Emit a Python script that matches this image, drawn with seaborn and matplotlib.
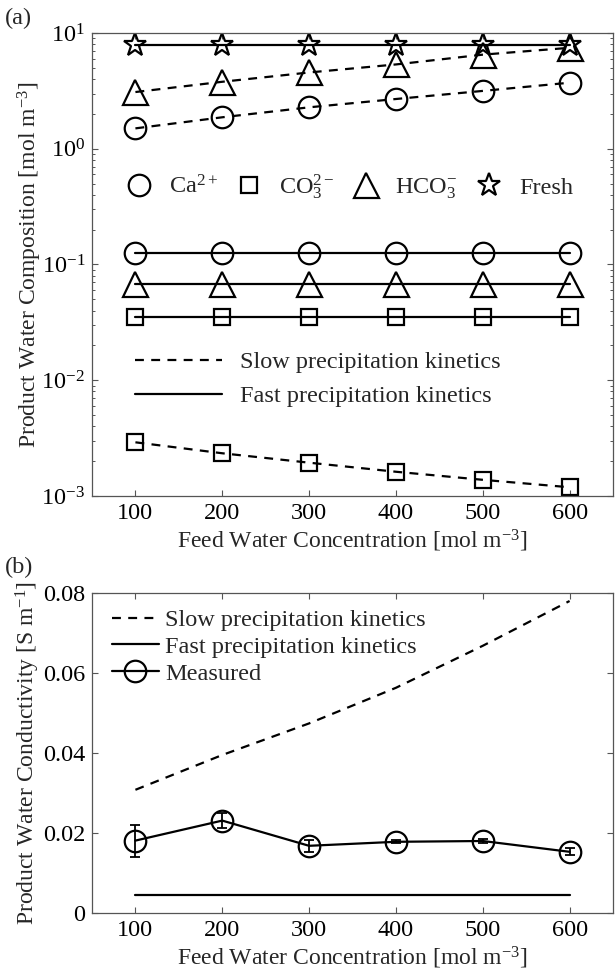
import numpy as np
import pandas as pd
import matplotlib
matplotlib.use("Agg")
import matplotlib.pyplot as plt
from matplotlib.lines import Line2D
import seaborn as sns

# ---------------- data ----------------
feed = [100, 200, 300, 400, 500, 600]

# panel (a): product water composition [mol m^-3]
ca_slow = [1.50, 1.87, 2.28, 2.69, 3.16, 3.72]
ca_fast = [0.125, 0.125, 0.125, 0.125, 0.125, 0.125]
co3_slow = [0.00291, 0.00234, 0.00194, 0.00162, 0.00138, 0.00119]
co3_fast = [0.035, 0.035, 0.035, 0.035, 0.035, 0.035]
hco3_slow = [3.09, 3.79, 4.56, 5.35, 6.50, 7.45]
hco3_fast = [0.068, 0.068, 0.068, 0.068, 0.068, 0.068]
fresh = [7.9, 7.9, 7.9, 7.9, 7.9, 7.9]

# panel (b): product water conductivity [S m^-1]
cond_slow = [0.0308, 0.0395, 0.0474, 0.0563, 0.0668, 0.0780]
cond_fast = [0.0045, 0.0045, 0.0045, 0.0045, 0.0045, 0.0045]
cond_meas = [0.0181, 0.0231, 0.0168, 0.0178, 0.0180, 0.0153]
cond_err = [0.0040, 0.0018, 0.0015, 0.0004, 0.0004, 0.0009]

ion_labels = [r"Ca$^{2+}$", r"CO$_3^{2-}$", r"HCO$_3^{-}$", "Fresh"]
kin_labels = ["Slow precipitation kinetics", "Fast precipitation kinetics"]
meas_label = "Measured"
xlabel = r"Feed Water Concentration [mol m$^{-3}$]"
ylabel_a = r"Product Water Composition [mol m$^{-3}$]"
ylabel_b = r"Product Water Conductivity [S m$^{-1}$]"
xticks = [100, 200, 300, 400, 500, 600]
yticks_b = [0, 0.02, 0.04, 0.06, 0.08]
yticklabels_b = ["0", "0.02", "0.04", "0.06", "0.08"]

# ---------------- style ----------------
sns.set_theme(style="ticks")
plt.rcParams["font.family"] = ["Liberation Serif", "DejaVu Serif"]
plt.rcParams["mathtext.fontset"] = "custom"
plt.rcParams["mathtext.rm"] = "Liberation Serif"
plt.rcParams["mathtext.it"] = "Liberation Serif:italic"
plt.rcParams["mathtext.bf"] = "Liberation Serif:bold"
FS = 17.5
LFS = 17
SPINE = "#555555"
DASH = (0, (4, 3.3))
LW = 1.6
MEW = 1.6

fig = plt.figure(figsize=(6.15, 9.74), dpi=100)
axa = fig.add_axes([92 / 615, 1 - 496 / 974, 521 / 615, 463 / 974])
axb = fig.add_axes([92 / 615, 1 - 913 / 974, 521 / 615, 320 / 974])


def style_axes(ax):
    for s in ax.spines.values():
        s.set_color(SPINE)
        s.set_linewidth(0.9)
    ax.tick_params(which="both", direction="in", top=True, right=True,
                   color=SPINE, labelsize=FS, labelcolor="black", pad=5)
    ax.tick_params(which="major", length=4.5, width=0.8)
    ax.tick_params(which="minor", length=2.5, width=0.7)
    ax.set_xlim(50, 650)
    ax.set_xticks(xticks)
    ax.set_xlabel(xlabel, fontsize=LFS, labelpad=3)


def line(ax, y, ls, marker=None, ms=0):
    df = pd.DataFrame({"x": feed, "y": y})
    kw = dict(color="black", linewidth=LW, linestyle=ls)
    if marker:
        kw.update(marker=marker, markersize=ms, markerfacecolor="none",
                  markeredgecolor="black", markeredgewidth=MEW)
    sns.lineplot(data=df, x="x", y="y", ax=ax, legend=False, **kw)


# ---------------- panel (a) ----------------
axa.set_yscale("log")
line(axa, fresh, "-", "*", 17)
line(axa, hco3_slow, DASH, "^", 18)
line(axa, ca_slow, DASH, "o", 15.5)
line(axa, ca_fast, "-", "o", 15.5)
line(axa, hco3_fast, "-", "^", 18)
line(axa, co3_fast, "-", "s", 11.5)
line(axa, co3_slow, DASH, "s", 11.5)
axa.set_ylim(1e-3, 1e1)
style_axes(axa)
axa.set_ylabel(ylabel_a, fontsize=LFS, labelpad=-2)

mk = dict(color="black", linestyle="none", markerfacecolor="none",
          markeredgecolor="black", markeredgewidth=MEW)
ion_handles = [Line2D([], [], marker="o", markersize=15.5, **mk),
               Line2D([], [], marker="s", markersize=11.5, **mk),
               Line2D([], [], marker="^", markersize=18, **mk),
               Line2D([], [], marker="*", markersize=17, **mk)]
leg1 = axa.legend(ion_handles, ion_labels, loc="center left",
                  bbox_to_anchor=(0.062, 0.667), ncol=4, frameon=False,
                  fontsize=FS, handlelength=1.2, handletextpad=0.62,
                  columnspacing=0.7, borderpad=0, borderaxespad=0)
axa.add_artist(leg1)
kin_handles = [Line2D([], [], color="black", lw=LW, linestyle=DASH),
               Line2D([], [], color="black", lw=LW, linestyle="-")]
axa.legend(kin_handles, kin_labels, loc="center left",
           bbox_to_anchor=(0.0825, 0.252), frameon=False, fontsize=FS,
           handlelength=3.6, handletextpad=0.74, labelspacing=0.5,
           borderpad=0, borderaxespad=0)

# ---------------- panel (b) ----------------
line(axb, cond_slow, DASH)
line(axb, cond_fast, "-")
axb.errorbar(feed, cond_meas, yerr=cond_err, fmt="none", ecolor="black",
             elinewidth=1.3, capsize=3.5, capthick=1.3)
line(axb, cond_meas, "-", "o", 15.5)
axb.set_ylim(0, 0.08)
axb.set_yticks(yticks_b)
axb.set_yticklabels(yticklabels_b)
style_axes(axb)
axb.set_ylabel(ylabel_b, fontsize=LFS, labelpad=0.5)

b_handles = [Line2D([], [], color="black", lw=LW, linestyle=DASH),
             Line2D([], [], color="black", lw=LW, linestyle="-"),
             Line2D([], [], color="black", lw=LW, linestyle="-", marker="o",
                    markersize=15.5, markerfacecolor="none",
                    markeredgecolor="black", markeredgewidth=MEW)]
axb.legend(b_handles, kin_labels + [meas_label], loc="upper left",
           bbox_to_anchor=(0.038, 0.95), frameon=False, fontsize=FS,
           handlelength=1.93, handletextpad=0.25, labelspacing=0.2,
           borderpad=0, borderaxespad=0)

fig.text(5 / 615, 1 - 18 / 974, "(a)", fontsize=FS, va="center", ha="left")
fig.text(5 / 615, 1 - 567 / 974, "(b)", fontsize=FS, va="center", ha="left")

fig.savefig("out.png", dpi=100)
